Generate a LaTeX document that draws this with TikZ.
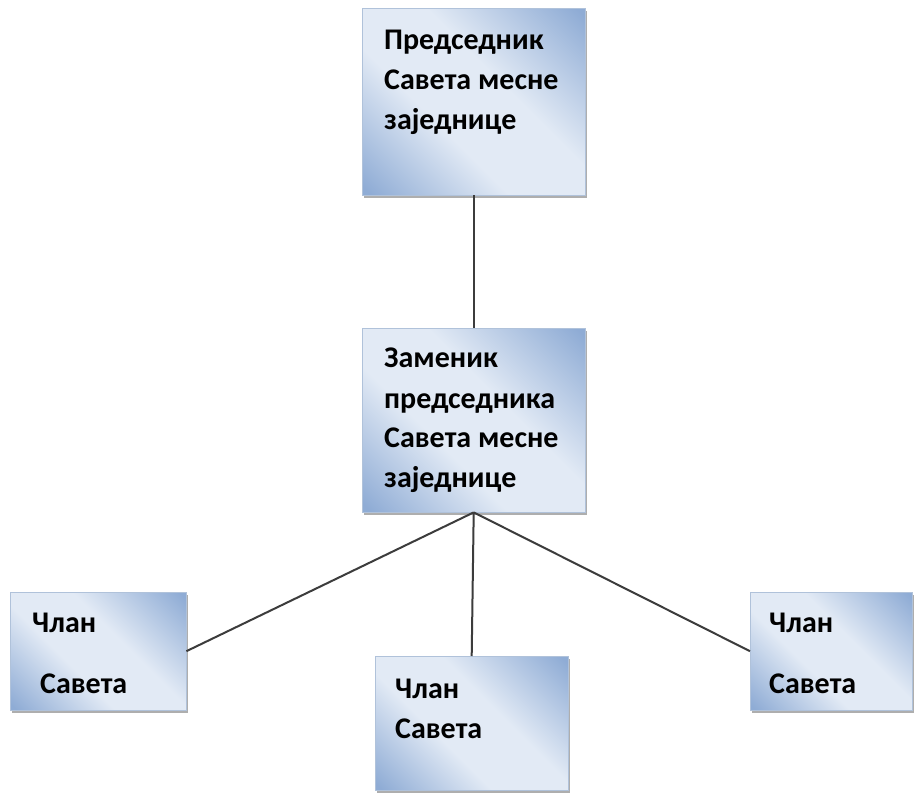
\documentclass[tikz,border=0pt]{standalone}
\usepackage{fontspec}
\setmainfont{Carlito}
\usetikzlibrary{shadows}

\definecolor{boxdark}{RGB}{143,172,213}
\definecolor{boxlight}{RGB}{226,234,245}
\definecolor{boxedge}{RGB}{176,194,218}
\definecolor{linkgray}{RGB}{60,60,60}

\pgfdeclareverticalshading{orgshade}{100bp}{color(0bp)=(boxdark); color(16bp)=(boxdark);
  color(40bp)=(boxlight); color(58bp)=(boxlight); color(84bp)=(boxdark); color(100bp)=(boxdark)}

\tikzset{
  orgbox/.style={draw=boxedge, line width=0.4pt, shading=orgshade, shading angle=-45,
    drop shadow={shadow xshift=2pt, shadow yshift=-3pt, opacity=0.45, fill=black!70},
    anchor=north west, inner sep=0pt},
  orgtext/.style={anchor=base west, align=left, inner sep=0pt,
    font=\fontsize{30}{40}\selectfont\bfseries},
  link/.style={draw=linkgray, line width=2pt},
}

\begin{document}
\begin{tikzpicture}[x=1pt, y=-1pt]
  \useasboundingbox[fill=white] (0,0) rectangle (914,794);
  % kutije
  \node[orgbox, minimum width=223pt, minimum height=187pt] (pred) at (362,8) {};
  \node[orgbox, minimum width=223pt, minimum height=184pt] (zam) at (362,328) {};
  \node[orgbox, minimum width=176pt, minimum height=118pt] (clanL) at (10,592) {};
  \node[orgbox, minimum width=193pt, minimum height=134pt] (clanM) at (375,656) {};
  \node[orgbox, minimum width=162pt, minimum height=118pt] (clanR) at (750,592) {};
  % veze
  \draw[link] (pred.south) -- (zam.north);
  \draw[link] (zam.south) -- (clanL.east);
  \draw[link] (zam.south) -- (clanM.north);
  \draw[link] (zam.south) -- (clanR.west);
  % tekst (sidro na osnovnoj liniji poslednjeg reda)
  \node[orgtext] (pred-t) at (384,130) {Председник\\Савета месне\\заједнице};
  \node[orgtext] (zam-t) at (384,488) {Заменик\\председника\\Савета месне\\заједнице};
  \node[orgtext] (clanL-t) at (32,693) {Члан\\[21pt]\hspace{8pt}Савета};
  \node[orgtext] (clanM-t) at (395,738) {Члан\\Савета};
  \node[orgtext] (clanR-t) at (769,693) {Члан\\[21pt]Савета};
\end{tikzpicture}
\end{document}
